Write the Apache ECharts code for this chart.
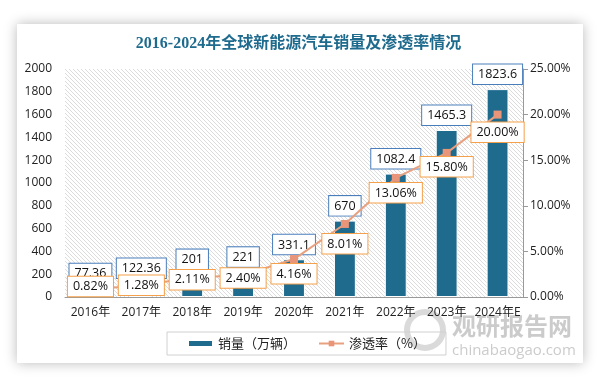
<!DOCTYPE html>
<html><head><meta charset="utf-8">
<script src="https://cdn.jsdelivr.net/npm/echarts@6/dist/echarts.min.js"></script>
<style>html,body{margin:0;padding:0;background:#fff}#c{width:597px;height:377px}</style>
</head><body><div id="c"></div>
<script>
var categories = ['2016年','2017年','2018年','2019年','2020年','2021年','2022年','2023年','2024年E'];
var sales = [77.36, 122.36, 201, 221, 331.1, 670, 1082.4, 1465.3, 1823.6];
var rates = [0.82, 1.28, 2.11, 2.40, 4.16, 8.01, 13.06, 15.80, 20.00];
var salesName = '销量（万辆）';
var rateName = '渗透率（%）';
var titleText = '2016-2024年全球新能源汽车销量及渗透率情况';

// hatch pattern
var pc = document.createElement('canvas');
pc.width = 4; pc.height = 4;
var g = pc.getContext('2d');
g.fillStyle = '#ffffff'; g.fillRect(0,0,4,4);
g.strokeStyle = '#dcdcdc'; g.lineWidth = 1;
g.beginPath(); g.moveTo(-1,-1); g.lineTo(5,5); g.stroke();
g.beginPath(); g.moveTo(-1,3); g.lineTo(1,5); g.stroke();
g.beginPath(); g.moveTo(3,-1); g.lineTo(5,1); g.stroke();

var font = 'Open Sans, Noto Sans CJK SC, sans-serif';
var rateLabelCfg = [
  {position:'inside', offset:[0,-3]},
  {position:'inside', offset:[0,0]},
  {position:'inside', offset:[0,2]},
  {position:'inside', offset:[0,3]},
  {position:'bottom', distance:1},
  {position:'bottom', distance:6},
  {position:'bottom', distance:1},
  {position:'bottom', distance:0},
  {position:'bottom', distance:4}
];
var rateData = rates.map(function(v,i){ return {value:v, label:rateLabelCfg[i]}; });

var chart = echarts.init(document.getElementById('c'), null, {renderer:'canvas'});
chart.setOption({
  animation:false,
  backgroundColor:'#fff',
  graphic:[
    {type:'rect', z:-10, shape:{x:17,y:24,width:566,height:339}, style:{fill:'#fff', shadowBlur:12, shadowColor:'rgba(0,0,0,0.28)'}},
    {type:'circle', z:-5, shape:{cx:425,cy:330,r:18}, style:{fill:'none', stroke:'rgba(150,150,150,0.35)', lineWidth:6}},
    {type:'text', z:-5, left:452, top:314, style:{text:'观研报告网', font:'bold 24px Noto Sans CJK SC', fill:'rgba(140,140,140,0.45)'}},
    {type:'text', z:-5, left:452, top:343, style:{text:'chinabaogao.com', font:'15px Open Sans', fill:'rgba(140,140,140,0.45)'}}
  ],
  title:{text:titleText, left:'center', top:31, textStyle:{fontSize:16, fontWeight:'bold', color:'#1f6b8e', fontFamily:'Liberation Serif, Noto Sans CJK SC'}},
  grid:{left:65, right:74, top:69, bottom:80, show:true, borderWidth:0, backgroundColor:{image:pc, repeat:'repeat'}},
  legend:{
    left:167, top:332, width:266, height:24,
    padding:[5,20,5,20], itemGap:22, borderColor:'#d0d0d0', borderWidth:1,
    itemWidth:25, itemHeight:7,
    textStyle:{fontSize:13, color:'#222', fontFamily:'Noto Sans CJK SC'},
    data:[{name:salesName, icon:'rect'}, {name:rateName}]
  },
  xAxis:{type:'category', data:categories,
    axisLine:{lineStyle:{color:'#999'}}, axisTick:{show:false},
    axisLabel:{fontSize:12, color:'#222', margin:10, fontFamily:font, interval:0}},
  yAxis:[
    {type:'value', min:0, max:2000, interval:200, splitLine:{show:false},
     axisLine:{show:false}, axisTick:{show:false},
     axisLabel:{fontSize:12, color:'#222', fontFamily:font, margin:13, formatter:function(v){return String(v);}}},
    {type:'value', min:0, max:25, interval:5, splitLine:{show:false},
     axisLine:{show:true, lineStyle:{color:'#999'}}, axisTick:{show:true, inside:false, length:5, lineStyle:{color:'#999'}},
     axisLabel:{fontSize:12, color:'#222', fontFamily:font, margin:7, formatter:function(v){return v.toFixed(2)+'%';}}}
  ],
  series:[
    {name:salesName, type:'bar', data:sales, barWidth:'43%', z:2,
     itemStyle:{color:'#1f6b8e', borderColor:'#fff', borderWidth:1},
     label:{show:true, position:'top', distance:5, fontSize:12.5, color:'#111', fontFamily:font,
       backgroundColor:'#fff', borderColor:'#4a7ebb', borderWidth:1, padding:[4,5,3,5]}},
    {name:rateName, type:'line', yAxisIndex:1, data:rateData, z:5,
     symbol:'rect', symbolSize:8,
     lineStyle:{color:'#e8a07e', width:2}, itemStyle:{color:'#e8957a'},
     label:{show:true, fontSize:12.5, color:'#111', fontFamily:font,
       formatter:function(p){return p.value.toFixed(2)+'%';},
       backgroundColor:'#fff', borderColor:'#f5a04a', borderWidth:1, padding:[4,5,3,5]}}
  ]
});
</script></body></html>
